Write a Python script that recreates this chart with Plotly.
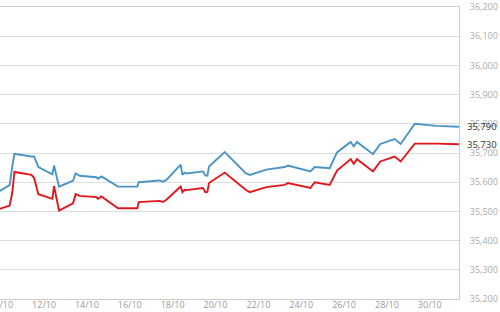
import plotly.graph_objects as go

# Timestamps (shared by both series)
times = [
    "2023-10-09 22:00", "2023-10-10 09:30", "2023-10-10 12:20", "2023-10-10 14:50",
    "2023-10-11 09:50", "2023-10-11 12:45", "2023-10-11 17:40", "2023-10-12 09:20",
    "2023-10-12 11:10", "2023-10-12 13:00", "2023-10-12 16:45", "2023-10-13 08:25",
    "2023-10-13 11:25", "2023-10-13 15:55", "2023-10-14 10:35", "2023-10-14 12:25",
    "2023-10-14 16:15", "2023-10-15 10:50", "2023-10-16 08:30", "2023-10-16 10:00",
    "2023-10-17 09:30", "2023-10-17 13:10", "2023-10-17 17:00", "2023-10-18 09:00",
    "2023-10-18 10:55", "2023-10-18 13:30", "2023-10-18 15:25", "2023-10-19 10:00",
    "2023-10-19 12:40", "2023-10-19 14:55", "2023-10-19 16:45", "2023-10-20 10:20",
    "2023-10-21 09:50", "2023-10-21 14:25", "2023-10-22 09:00", "2023-10-23 05:30",
    "2023-10-23 09:05", "2023-10-24 10:20", "2023-10-24 15:05", "2023-10-25 07:55",
    "2023-10-25 16:05", "2023-10-26 07:25", "2023-10-26 10:50", "2023-10-26 14:25",
    "2023-10-27 08:25", "2023-10-27 16:35", "2023-10-28 08:40", "2023-10-28 15:25",
    "2023-10-29 07:10", "2023-10-30 07:25", "2023-10-31 08:40",
]

# Blue series (sell)
sell = [
    35569, 35590, 35653, 35697, 35688, 35688, 35652, 35627, 35657, 35631,
    35585, 35605, 35630, 35622, 35617, 35612, 35620, 35585, 35585, 35600,
    35606, 35602, 35608, 35660, 35625, 35633, 35630, 35637, 35623, 35622,
    35654, 35703, 35631, 35625, 35643, 35652, 35657, 35637, 35652, 35648,
    35702, 35738, 35723, 35738, 35696, 35731, 35748, 35731, 35800, 35793,
    35790,
]

# Red series (buy)
buy = [
    35508, 35520, 35563, 35635, 35625, 35615, 35559, 35543, 35587, 35557,
    35503, 35528, 35559, 35553, 35549, 35543, 35551, 35511, 35511, 35532,
    35536, 35532, 35540, 35585, 35566, 35574, 35573, 35580, 35566, 35567,
    35597, 35633, 35574, 35566, 35583, 35591, 35597, 35580, 35600, 35591,
    35640, 35679, 35663, 35679, 35637, 35671, 35688, 35671, 35732, 35732,
    35730,
]

last_labels = ["35,790", "35,730"]

fig = go.Figure()
fig.add_trace(go.Scatter(x=times, y=sell, mode="lines",
                         line=dict(color="#4a95c5", width=1.9)))
fig.add_trace(go.Scatter(x=times, y=buy, mode="lines",
                         line=dict(color="#e3161c", width=1.9)))

for val, txt in zip([sell[-1], buy[-1]], last_labels):
    fig.add_annotation(x=1, xref="paper", y=val, yref="y", text=txt,
                       showarrow=False, xanchor="left", xshift=6,
                       font=dict(family="Open Sans", size=9.5, color="#333333"))

fig.update_layout(
    template="none",
    width=500, height=312,
    margin=dict(l=0, r=41, t=7, b=13),
    plot_bgcolor="white", paper_bgcolor="white",
    showlegend=False,
)
fig.update_xaxes(
    type="date",
    range=["2023-10-09 22:40", "2023-10-31 08:43"],
    tick0="2023-10-10", dtick=2 * 86400000, tickformat="%d/%m",
    showgrid=False, showline=True, mirror=True, linecolor="#cccccc", linewidth=1,
    ticks="", zeroline=False, automargin=False,
    ticklabeloverflow="allow", ticklabelstandoff=-3,
    tickfont=dict(family="Open Sans", size=9, color="#999999"),
)
fig.update_yaxes(
    side="right", range=[35200, 36200], dtick=100, tickformat=",d",
    showgrid=True, gridcolor="#dddddd", gridwidth=1,
    showline=True, mirror=True, linecolor="#cccccc", linewidth=1,
    zeroline=False, ticks="", ticklabelstandoff=8, automargin=False,
    ticklabeloverflow="allow",
    tickfont=dict(family="Open Sans", size=9, color="#aaaaaa"),
)

fig.write_html("out.html")
